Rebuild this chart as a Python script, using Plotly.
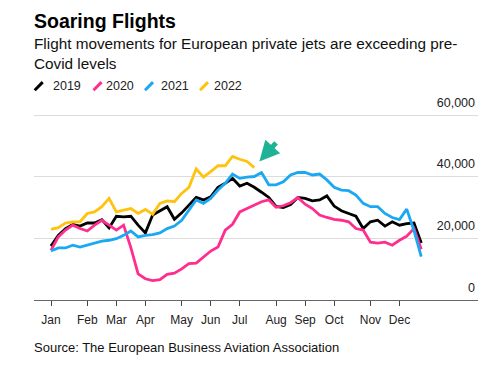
import plotly.graph_objects as go

# ---------------- data (weekly flight movements) ----------------
weeks = list(range(52))

y2019 = [17.5, 21.0, 23.2, 24.5, 24.0, 25.0, 25.0, 26.1, 23.4, 27.2,
         27.0, 27.2, 24.3, 21.8, 27.6, 28.9, 30.3, 26.2, 28.3, 30.8,
         33.3, 32.5, 33.5, 36.6, 37.9, 39.5, 37.0, 37.9, 36.6, 35.0,
         33.3, 30.4, 30.0, 31.0, 33.3, 33.0, 32.2, 32.5, 33.8, 30.5,
         29.0, 28.1, 27.2, 23.2, 25.4, 25.9, 24.0, 25.4, 24.3, 24.8,
         25.0, 18.5]
y2020 = [16.1, 20.5, 22.7, 24.3, 23.2, 22.4, 24.3, 25.9, 24.3, 22.7,
         24.3, 17.0, 8.5, 6.9, 6.3, 6.6, 8.3, 8.7, 10.1, 11.8,
         12.0, 13.9, 15.9, 17.2, 22.7, 24.6, 28.6, 29.7, 30.8, 31.9,
         32.5, 30.1, 30.6, 31.6, 33.3, 31.1, 29.7, 27.6, 26.8, 26.2,
         25.9, 25.4, 23.2, 22.7, 18.8, 18.5, 18.8, 17.8, 19.4, 20.7,
         23.2, 16.5]
y2021 = [15.9, 16.9, 16.9, 17.8, 17.2, 17.8, 18.3, 19.1, 19.4, 19.9,
         21.0, 22.4, 20.5, 21.0, 21.2, 21.8, 23.2, 24.0, 25.9, 29.2,
         32.5, 31.4, 33.0, 35.7, 37.9, 40.9, 39.5, 39.9, 40.1, 41.4,
         37.4, 37.4, 38.4, 40.6, 41.4, 41.4, 40.6, 40.9, 39.0, 36.6,
         35.7, 35.5, 34.1, 31.4, 30.3, 30.3, 28.1, 26.8, 26.1, 29.5,
         22.5, 14.1]
y2022 = [22.9, 23.5, 25.0, 25.4, 25.4, 28.1, 28.6, 30.3, 33.0, 28.6,
         29.2, 29.7, 28.1, 29.4, 27.8, 31.4, 32.2, 31.9, 34.6, 36.6,
         42.6, 39.9, 41.7, 43.6, 43.6, 46.6, 45.7, 45.0, 43.0]

series_names = ["2019", "2020", "2021", "2022"]
series_values = [y2019, y2020, y2021, y2022]
series_colors = ["#000000", "#ff2d8e", "#1aa8f2", "#ffc20e"]

month_labels = ["Jan", "Feb", "Mar", "Apr", "May", "Jun",
                "Jul", "Aug", "Sep", "Oct", "Nov", "Dec"]
month_weeks = [0, 5, 9, 13, 18, 22, 26, 31, 35, 39, 44, 48]

y_ticks = [0, 20000, 40000, 60000]
y_labels = ["0", "20,000", "40,000", "60,000"]

# ---------------- layout geometry (pixels) ----------------
W, H = 500, 369
L, R = 34, 478          # plot area left/right
BOT = 300               # y pixel of 0
PX_PER_20K = 61.5
Y_MAX = 60400
TOP = BOT - Y_MAX / 20000 * PX_PER_20K


def px(x):
    return (x - L) / (R - L)


def py(y):
    return (BOT - y) / (BOT - TOP)


FONT = "Liberation Sans, Arial, Helvetica, sans-serif"

fig = go.Figure()
for name, vals, col in zip(series_names, series_values, series_colors):
    fig.add_trace(go.Scatter(
        x=weeks[:len(vals)], y=[v * 1000 for v in vals],
        mode="lines", name=name, showlegend=False,
        line=dict(color=col, width=2.8), hoverinfo="skip"))

shapes = []
annotations = []

# custom legend: diagonal strokes + labels
legend_pos = [(34.7, 52), (93.5, 105), (145, 160), (200, 213.5)]
for (sx, tx), name, col in zip(legend_pos, series_names, series_colors):
    shapes.append(dict(type="line", xref="paper", yref="paper",
                       x0=px(sx), y0=py(90.5), x1=px(sx + 8), y1=py(82.5),
                       line=dict(color=col, width=3)))
    annotations.append(dict(xref="paper", yref="paper", x=px(tx - 1.5), y=py(86.7),
                            xanchor="left", yanchor="middle", showarrow=False,
                            text=name, font=dict(family=FONT, size=12.5, color="#222")))

# title, subtitle, source
annotations.append(dict(xref="paper", yref="paper", x=px(32), y=py(21.5),
                        xanchor="left", yanchor="middle", showarrow=False,
                        text="<b>Soaring Flights</b>",
                        font=dict(family=FONT, size=19.5, color="#000")))
annotations.append(dict(xref="paper", yref="paper", x=px(32), y=py(54),
                        xanchor="left", yanchor="middle", showarrow=False, align="left",
                        text="Flight movements for European private jets are exceeding pre-<br>Covid levels",
                        font=dict(family=FONT, size=15.3, color="#111")))
annotations.append(dict(xref="paper", yref="paper", x=px(32), y=py(347.7),
                        xanchor="left", yanchor="middle", showarrow=False,
                        text="Source: The European Business Aviation Association",
                        font=dict(family=FONT, size=13, color="#111")))

# teal arrow pointing at the end of the 2022 line
annotations.append(dict(x=28.7, y=45000, xref="x", yref="y", showarrow=True,
                        ax=18, ay=-20, arrowhead=2, arrowsize=0.8, arrowwidth=5,
                        arrowcolor="#1db394", standoff=0, text=""))

fig.update_layout(
    width=W, height=H,
    margin=dict(l=L, r=W - R, t=TOP, b=H - BOT, pad=0),
    paper_bgcolor="white", plot_bgcolor="white",
    font=dict(family=FONT, color="#222"),
    shapes=shapes, annotations=annotations,
    showlegend=False,
    xaxis=dict(
        range=[-(51 - L) / 7.26, (R - 51) / 7.26],
        tickmode="array", tickvals=month_weeks, ticktext=month_labels,
        ticks="outside", ticklen=5, tickwidth=1, tickcolor="#444",
        ticklabelstandoff=4,
        showline=True, linecolor="#666", linewidth=1,
        showgrid=False, zeroline=False,
        tickfont=dict(family=FONT, size=12, color="#222"),
        fixedrange=True),
    yaxis=dict(
        range=[0, Y_MAX], side="right",
        tickmode="array", tickvals=y_ticks, ticktext=y_labels,
        ticklabelposition="inside top", ticklabeloverflow="allow",
        ticklabelshift=-4,
        ticks="", showgrid=True, gridcolor="#dcdcdc", gridwidth=1,
        zeroline=False, showline=False,
        tickfont=dict(family=FONT, size=12.5, color="#222"),
        fixedrange=True),
)

fig.write_html("out.html", config={"displayModeBar": False},
               post_script="document.body.style.margin='0';document.body.style.overflow='hidden';")
